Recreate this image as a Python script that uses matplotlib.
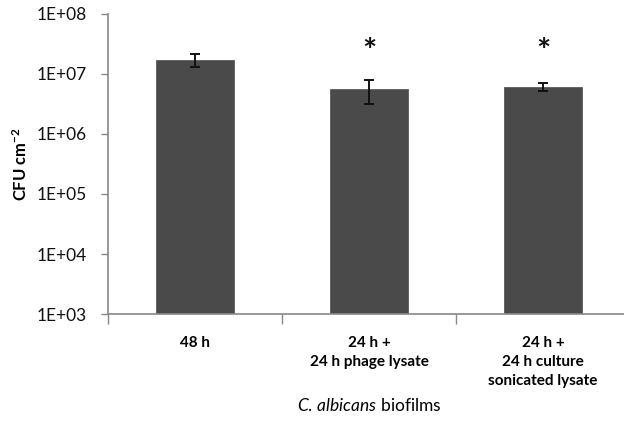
import numpy as np
import matplotlib
matplotlib.use("Agg")
import matplotlib.pyplot as plt

# Data
categories = ["48 h", "24 h +\n24 h phage lysate", "24 h +\n24 h culture\nsonicated lysate"]
cfu = [1.73e7, 5.6e6, 6.15e6]
cfu_err = [4.4e6, 2.4e6, 1.0e6]
significant = [False, True, True]
yticks = [1e3, 1e4, 1e5, 1e6, 1e7, 1e8]
ytick_labels = ["1E+03", "1E+04", "1E+05", "1E+06", "1E+07", "1E+08"]

plt.rcParams['font.family'] = ['Lato', 'DejaVu Sans']
plt.rcParams['mathtext.fontset'] = 'custom'
plt.rcParams['mathtext.rm'] = 'Lato'
plt.rcParams['mathtext.it'] = 'Lato:italic'
plt.rcParams['mathtext.bf'] = 'Lato:bold'

fig = plt.figure(figsize=(6.24, 4.21), dpi=100)
fig.patch.set_facecolor('white')
ax = fig.add_axes([0.173, 0.254, 0.8365, 0.713])

x = np.arange(len(categories))
ax.bar(x, cfu, width=0.45, color='#4a4a4a', edgecolor='#5a5a5a', linewidth=0.6, zorder=2)
ax.errorbar(x, cfu, yerr=cfu_err, fmt='none', ecolor='#111111', elinewidth=1.4,
            capsize=3.6, capthick=1.4, zorder=3)

# significance asterisks
for xi, sig in zip(x, significant):
    if sig:
        ax.text(xi, 1.3e7, '*', ha='center', va='bottom', fontsize=24,
                fontweight='bold', color='#111111')

ax.set_yscale('log')
ax.set_ylim(1e3, 1e8)
ax.set_xlim(-0.5, 2.5)
ax.set_yticks(yticks)
ax.set_yticklabels(ytick_labels, fontsize=12.5)
ax.yaxis.set_minor_locator(matplotlib.ticker.NullLocator())

ax.set_xticks(x)
ax.set_xticklabels(categories, fontsize=11, fontweight='bold', linespacing=1.45, va='top')
ax.set_xticks([-0.5, 0.5, 1.5], minor=True)
ax.tick_params(axis='x', which='major', length=0, pad=16)
ax.tick_params(axis='x', which='minor', length=7, color='#888888', width=1)
ax.tick_params(axis='y', length=5, color='#888888', width=1, pad=10)
for lab in ax.get_yticklabels():
    lab.set_color('#111111')

for side in ['top', 'right']:
    ax.spines[side].set_visible(False)
for side in ['left', 'bottom']:
    ax.spines[side].set_color('#888888')
    ax.spines[side].set_linewidth(1.2)

ax.set_ylabel('CFU cm$^{\\mathbf{-2}}$', fontsize=12, fontweight='bold', labelpad=5)
ax.set_xlabel('$\\it{C.}\\,\\it{albicans}$ biofilms', fontsize=12.5, labelpad=6)

fig.savefig('out.png', dpi=100, facecolor='white')
